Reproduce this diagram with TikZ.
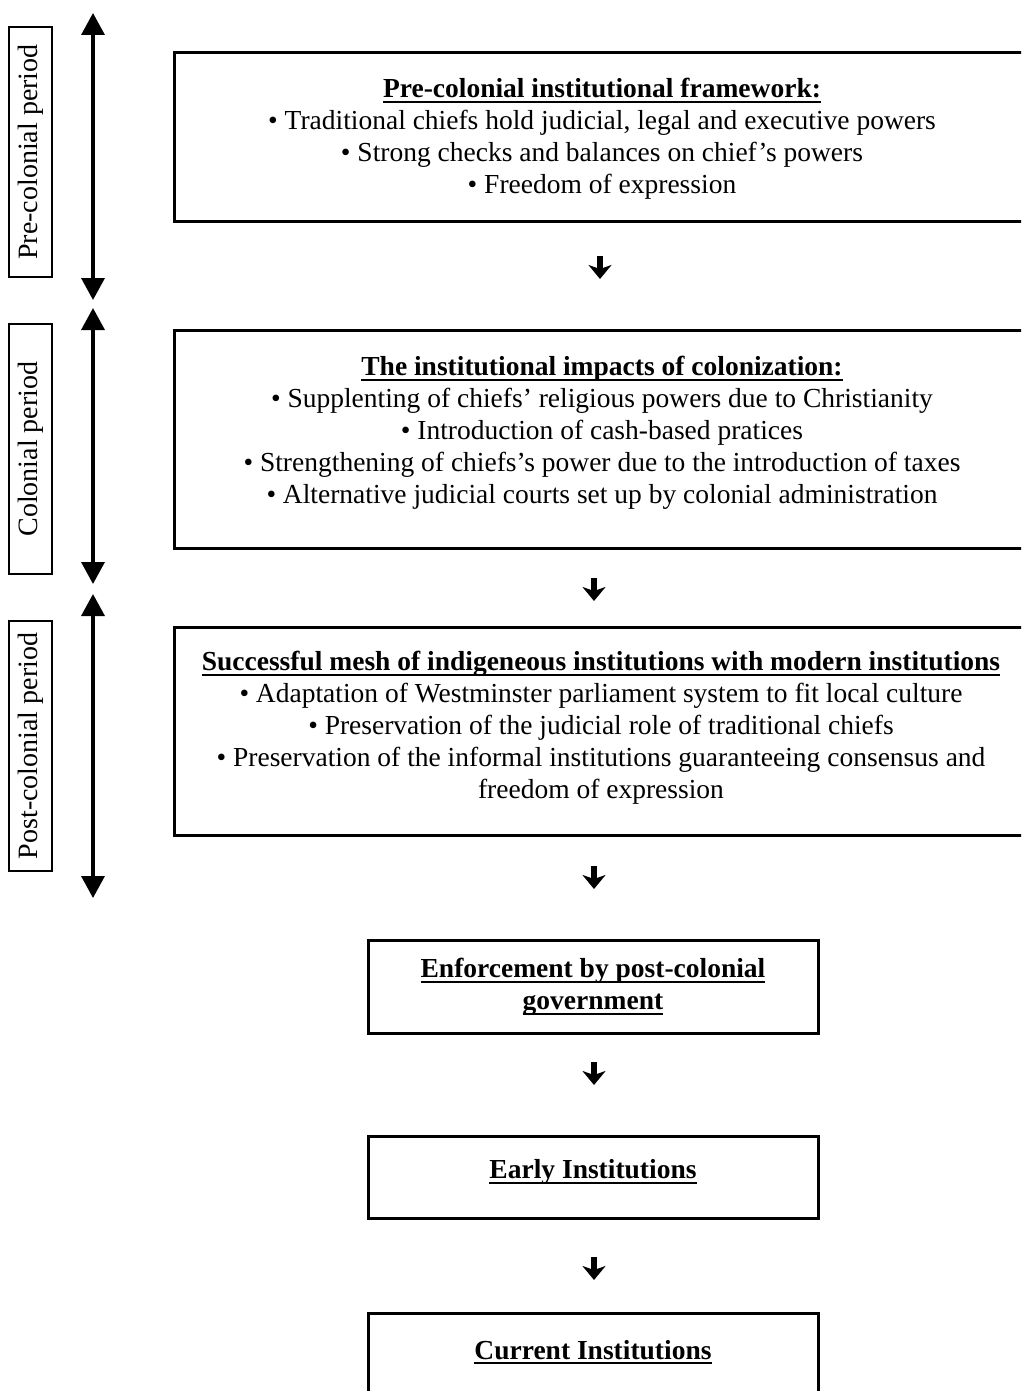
\documentclass[tikz,border=0pt]{standalone}
\usepackage{fontspec}
\setmainfont{Liberation Serif}
\usetikzlibrary{arrows.meta}
\newcommand\myul[1]{\setbox0\hbox{#1}\rlap{\rule[-5pt]{\wd0}{1.6pt}}\box0}
\begin{document}
\begin{tikzpicture}[x=1pt,y=-1pt,
  frame/.style={draw=black, line width=3pt, inner sep=0pt},
  body/.style={align=center, font=\fontsize{27.5}{32}\selectfont, inner sep=0pt},
  period/.style={draw=black, line width=2.5pt, rotate=90, font=\fontsize{28}{32}\selectfont,
     minimum width=250pt, minimum height=43pt, inner sep=0pt},
  span/.style={line width=3.5pt, {Triangle[length=22pt,width=23pt]}-{Triangle[length=22pt,width=23pt]}},
  flowarrow/.style={line width=6pt, -{Stealth[length=14pt,width=23pt,inset=4pt]}}
]
\useasboundingbox (0,0) rectangle (1021,1391);
\clip (0,0) rectangle (1021,1391);
\fill[white] (0,0) rectangle (1021,1391);

% period labels
\node[period] (l1) at (30.5,152) {Pre-colonial period};
\node[period] (l2) at (30.5,449) {Colonial period};
\node[period] (l3) at (30.5,746) {Post-colonial period};

% period spans
\coordinate (p1t) at (93,13);  \coordinate (p1b) at (93,300);
\coordinate (p2t) at (93,308); \coordinate (p2b) at (93,584);
\coordinate (p3t) at (93,594); \coordinate (p3b) at (93,898);
\draw[span] (p1t) -- (p1b);
\draw[span] (p2t) -- (p2b);
\draw[span] (p3t) -- (p3b);

% boxes
\node[frame, minimum width=856pt, minimum height=168pt] (b1) at (602,137) {};
\node[body] (t1) at (602,139) {\myul{\textbf{Pre-colonial institutional framework:}}\\
 • Traditional chiefs hold judicial, legal and executive powers\\
 • Strong checks and balances on chief's powers\\
 • Freedom of expression};

\node[frame, minimum width=856pt, minimum height=218pt] (b2) at (602,439) {};
\node[body] (t2) at (602,433) {\myul{\textbf{The institutional impacts of colonization:}}\\
 • Supplenting of chiefs' religious powers due to Christianity\\
 • Introduction of cash-based pratices\\
 • Strengthening of chiefs's power due to the introduction of taxes\\
 • Alternative judicial courts set up by colonial administration};

\node[frame, minimum width=856pt, minimum height=208pt] (b3) at (602,731) {};
\node[body] (t3) at (601,728) {\myul{\textbf{Successful mesh of indigeneous institutions with modern institutions}}\\
 • Adaptation of Westminster parliament system to fit local culture\\
 • Preservation of the judicial role of traditional chiefs\\
 • Preservation of the informal institutions guaranteeing consensus and\\
 freedom of expression};

\node[frame, minimum width=450pt, minimum height=93pt] (b4) at (593,986.5) {};
\node[body] (t4) at (593,987) {\myul{\textbf{Enforcement by post-colonial}}\\ \myul{\textbf{government}}};

\node[frame, minimum width=450pt, minimum height=82pt] (b5) at (593,1177) {};
\node[body] (t5) at (593,1172) {\myul{\textbf{Early Institutions}}};

\node[frame, minimum width=450pt, minimum height=90pt] (b6) at (593,1358) {};
\node[body] (t6) at (593,1352) {\myul{\textbf{Current Institutions}}};

% flow arrows
\coordinate (a1s) at (600,256);  \coordinate (a1e) at (600,279);
\coordinate (a2s) at (594,578);  \coordinate (a2e) at (594,601);
\coordinate (a3s) at (594,866);  \coordinate (a3e) at (594,889);
\coordinate (a4s) at (594,1062); \coordinate (a4e) at (594,1085);
\coordinate (a5s) at (594,1257); \coordinate (a5e) at (594,1280);
\draw[flowarrow] (a1s) -- (a1e);
\draw[flowarrow] (a2s) -- (a2e);
\draw[flowarrow] (a3s) -- (a3e);
\draw[flowarrow] (a4s) -- (a4e);
\draw[flowarrow] (a5s) -- (a5e);
\end{tikzpicture}
\end{document}
